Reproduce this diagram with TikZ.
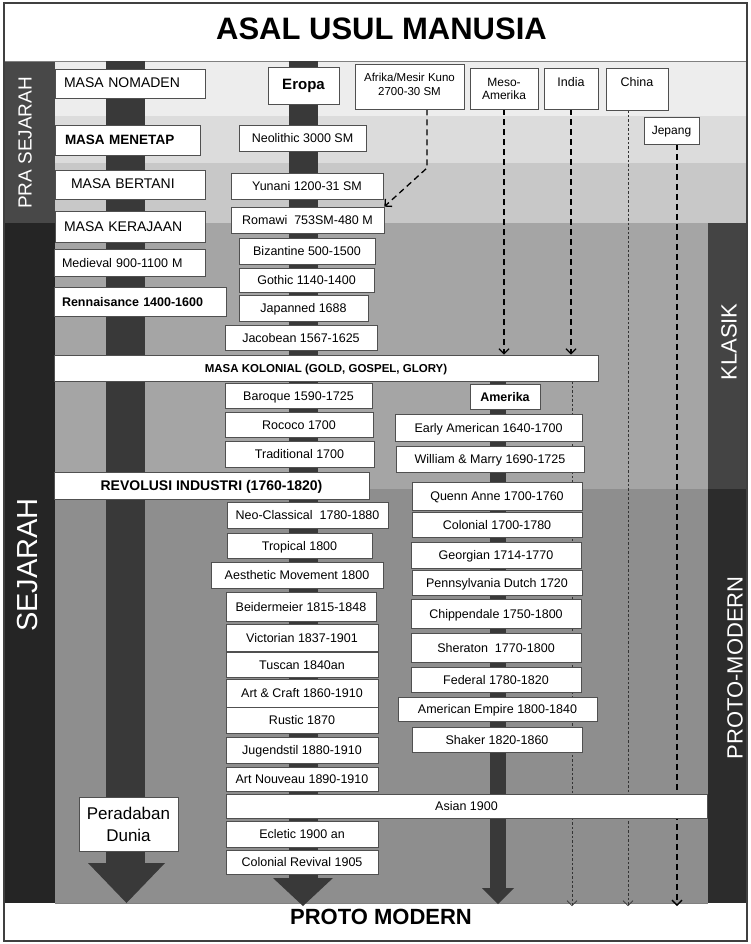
\documentclass[tikz,border=0pt]{standalone}
\usepackage{fontspec}
\setmainfont{Liberation Sans}
\usetikzlibrary{arrows.meta}

\definecolor{bandA}{HTML}{EDEDED}
\definecolor{bandB}{HTML}{DCDCDC}
\definecolor{bandC}{HTML}{C8C8C8}
\definecolor{bandD}{HTML}{A5A5A5}
\definecolor{bandE}{HTML}{8E8E8E}
\definecolor{barpra}{HTML}{484848}
\definecolor{barsej}{HTML}{252525}
\definecolor{barkla}{HTML}{444444}
\definecolor{barpro}{HTML}{2C2C2C}
\definecolor{shaft}{HTML}{393939}
\definecolor{boxline}{HTML}{505050}

\pgfdeclarelayer{backdrop}
\pgfdeclarelayer{links}
\pgfsetlayers{backdrop,links,main}

% box given by its corners: [options]{name}{x1}{y1}{x2}{y2}{text}
\newcommand{\eraBox}[7][]{%
  \node[bx,minimum width={#5-#3},minimum height={#6-#4},#1] (#2)
    at ({(#3+#5)/2},{(#4+#6)/2}) {#7};}
% left-aligned box: [options]{name}{x1}{y1}{x2}{y2}{indent}{text width}{text}
\newcommand{\eraLeft}[9][]{%
  \node[bx,align=left,minimum width={#5-#3},minimum height={#6-#4},
    inner xsep=#7pt,text width=#8pt,#1] (#2)
    at ({(#3+#5)/2},{(#4+#6)/2}) {#9};}

\begin{document}
\begin{tikzpicture}[x=1pt,y=-1pt,
  bx/.style={draw=boxline,fill=white,line width=0.7pt,inner sep=0pt,
    text height=9pt,text depth=0pt,font=\fontsize{12.5}{15}\selectfont},
  mbx/.style={draw=boxline,fill=white,line width=0.7pt,inner sep=0pt},
  boldtxt/.style={font=\fontsize{12.5}{15}\selectfont\bfseries},
  bigtxt/.style={font=\fontsize{14}{16}\selectfont},
  plain/.style={inner sep=0pt,font=\fontsize{12.5}{15}\selectfont},
  sidelabel/.style={rotate=90,text=white,inner sep=0pt},
  dashthick/.style={draw=black,line width=1.3pt,dash pattern=on 6pt off 4pt,
    -{Straight Barb[length=5pt,width=10pt]}},
  dotthin/.style={draw=black!80,line width=0.6pt,dash pattern=on 2.5pt off 2pt,
    -{Straight Barb[length=5pt,width=10pt]}}]

\useasboundingbox (0,0) rectangle (750,944);

\begin{pgfonlayer}{backdrop}
  \fill[white] (0,0) rectangle (750,944);
  % era bands
  \fill[bandA] (4,61) rectangle (747,116);
  \fill[bandB] (4,116) rectangle (747,163);
  \fill[bandC] (4,163) rectangle (747,223);
  \fill[bandD] (4,223) rectangle (747,489);
  \fill[bandE] (4,489) rectangle (747,903);
  % side bars
  \fill[barpra] (4,61) rectangle (55,223);
  \fill[barsej] (4,223) rectangle (55,903);
  \fill[barkla] (708,223) rectangle (747,489);
  \fill[barpro] (708,489) rectangle (747,903);
  % title and footer strips
  \fill[white] (4,3) rectangle (747,61);
  \draw[gray,line width=0.8pt] (4,61) -- (747,61);
  \fill[white] (4,903) rectangle (747,941);
  \draw[gray,line width=0.8pt] (55,903) -- (708,903);
  % main arrows
  \fill[shaft] (106,61) rectangle (145,864);
  \fill[shaft] (88,863) -- (165,863) -- (126.5,903) -- cycle;
  \fill[shaft] (289,61) rectangle (318,879);
  \fill[shaft] (273,878) -- (333,878) -- (303,906) -- cycle;
  \fill[shaft] (490,381) rectangle (506,889);
  \fill[shaft] (482,888) -- (514,888) -- (498,904) -- cycle;
\end{pgfonlayer}

% side labels
\node[sidelabel,font=\fontsize{19}{19}\selectfont] (lblpra) at (25,143) {PRA SEJARAH};
\node[sidelabel,font=\fontsize{29}{29}\selectfont] (lblsej) at (28,565) {SEJARAH};
\node[sidelabel,font=\fontsize{22}{22}\selectfont] (lblkla) at (729,342) {KLASIK};
\node[sidelabel,font=\fontsize{22}{22}\selectfont] (lblpro) at (735,668) {PROTO-MODERN};

% headings
\node[inner sep=0pt,font=\fontsize{31}{31}\selectfont\bfseries] (title) at (381.5,29) {ASAL USUL MANUSIA};
\node[inner sep=0pt,font=\fontsize{22}{22}\selectfont\bfseries] (footer) at (381,917) {PROTO MODERN};

% ages of mankind
\eraLeft[font=\fontsize{14}{16}\selectfont]{nomaden}{55}{69}{205}{98}{9}{132}{MASA NOMADEN}
\eraLeft[font=\fontsize{13.5}{16}\selectfont\bfseries]{menetap}{55}{125}{200}{155}{10}{125}{MASA MENETAP}
\eraLeft[font=\fontsize{14}{16}\selectfont]{bertani}{55}{170}{205}{199}{16}{118}{MASA BERTANI}
\eraLeft[font=\fontsize{14}{16}\selectfont]{kerajaan}{55}{211}{205}{242}{9}{132}{MASA KERAJAAN}
\eraLeft{medieval}{54}{249}{205}{276}{8}{135}{Medieval 900-1100 M}
\eraLeft[boldtxt]{renaissance}{54}{287}{226}{316}{8}{156}{Rennaisance 1400-1600}

% Europe
\eraBox[font=\fontsize{15}{18}\selectfont\bfseries]{eropa}{268}{67}{339}{104}{Eropa}
\eraBox{neolithic}{239}{125}{366}{151}{Neolithic 3000 SM}
\eraBox{yunani}{231}{173}{383}{199}{Yunani 1200-31 SM}
\eraBox{romawi}{231}{207}{384}{233}{Romawi~ 753SM-480 M}
\eraBox{bizantine}{239}{238}{375}{264}{Bizantine 500-1500}
\eraBox{gothic}{239}{268}{374}{292}{Gothic 1140-1400}
\eraBox{japanned}{239}{295}{368}{321}{Japanned 1688}
\eraBox{jacobean}{225}{325}{377}{350}{Jacobean 1567-1625}
\eraBox[font=\fontsize{11.5}{14}\selectfont\bfseries]{kolonial}{54}{355}{598}{381}{MASA KOLONIAL (GOLD, GOSPEL, GLORY)}
\eraBox{baroque}{225}{383}{372}{408}{Baroque 1590-1725}
\eraBox{rococo}{225}{412}{373}{437}{Rococo 1700}
\eraBox{traditional}{225}{441}{374}{467}{Traditional 1700}
\eraBox[font=\fontsize{14}{16}\selectfont\bfseries]{revolusi}{54}{472}{369}{499}{REVOLUSI INDUSTRI (1760-1820)}
\eraBox{neoclassical}{227}{502}{388}{528}{Neo-Classical~ 1780-1880}
\eraBox{tropical}{227}{533}{372}{558}{Tropical 1800}
\eraBox{aesthetic}{211}{562}{383}{588}{Aesthetic Movement 1800}
\eraBox{beidermeier}{226}{592}{376}{621}{Beidermeier 1815-1848}
\eraBox{victorian}{226}{624}{378}{651}{Victorian 1837-1901}
\eraBox{tuscan}{226}{652}{378}{677}{Tuscan 1840an}
\eraBox{artcraft}{226}{679}{378}{707}{Art \& Craft 1860-1910}
\eraBox{rustic}{226}{707}{378}{733}{Rustic 1870}
\eraBox{jugendstil}{226}{737}{378}{763}{Jugendstil 1880-1910}
\eraBox{artnouveau}{226}{767}{378}{791}{Art Nouveau 1890-1910}
\eraBox{asian}{226}{794}{707}{818}{Asian 1900}
\eraBox{ecletic}{226}{821}{378}{847}{Ecletic 1900 an}
\eraBox{colrevival}{226}{850}{378}{874}{Colonial Revival 1905}

\node[mbx,align=center,font=\fontsize{17}{22}\selectfont,minimum width=99,minimum height=54]
  (peradaban) at (128.5,824) {Peradaban\\Dunia};

% America
\eraBox[boldtxt]{amerika}{470}{384}{540}{409}{Amerika}
\eraBox{earlyam}{395}{414}{582}{441}{Early American 1640-1700}
\eraBox{william}{396}{446}{584}{472}{William \& Marry 1690-1725}
\eraBox{quenn}{412}{482}{582}{510}{Quenn Anne 1700-1760}
\eraBox{colonial}{412}{512}{582}{537}{Colonial 1700-1780}
\eraBox{georgian}{411}{542}{581}{568}{Georgian 1714-1770}
\eraBox{penn}{412}{570}{582}{595}{Pennsylvania Dutch 1720}
\eraBox{chippendale}{411}{599}{581}{628}{Chippendale 1750-1800}
\eraBox{sheraton}{411}{633}{581}{662}{Sheraton~ 1770-1800}
\eraBox{federal}{411}{667}{581}{692}{Federal 1780-1820}
\eraBox{amempire}{398}{697}{597}{721}{American Empire 1800-1840}
\eraBox{shaker}{412}{727}{582}{752}{Shaker 1820-1860}

% other civilisations
\node[mbx,minimum width=109,minimum height=45] (afrika) at (409.5,86.5) {};
\node[plain,align=center,font=\fontsize{11.5}{14}\selectfont] (afrikatxt) at (409.5,84) {Afrika/Mesir Kuno\\2700-30 SM};
\node[mbx,minimum width=68,minimum height=41] (meso) at (504,88.5) {};
\node[plain,align=center,font=\fontsize{12}{13}\selectfont] (mesotxt) at (504,88.5) {Meso-\\Amerika};
\node[mbx,minimum width=54,minimum height=41] (india) at (571,88.5) {};
\node[plain,text height=9pt,text depth=0pt] (indiatxt) at (571,82) {India};
\node[mbx,minimum width=62,minimum height=42] (china) at (637,89) {};
\node[plain,text height=9pt,text depth=0pt] (chinatxt) at (637,82) {China};
\eraBox[font=\fontsize{12}{14}\selectfont]{jepang}{644}{117}{699}{144}{Jepang}

% influence lines
\coordinate (afrbend) at (427,168);
\coordinate (indiaend) at (572,906);
\coordinate (chinaend) at (628,906);
\coordinate (jepangend) at (677,906);
\begin{pgfonlayer}{links}
  \draw[dashthick] (afrika.south -| afrbend) -- (afrbend) -- (romawi.north east);
  \draw[dashthick] (meso.south) -- (meso.south |- kolonial.north);
  \draw[dashthick] (india.south) -- (india.south |- kolonial.north);
  \draw[dotthin] (indiaend |- kolonial.south) -- (indiaend);
  \draw[dotthin] (china.south -| chinaend) -- (chinaend);
  \draw[dashthick] (jepang.south -| jepangend) -- (jepangend);
\end{pgfonlayer}

% outer frame
\draw[black!75,line width=1.2pt] (4,3) rectangle (747,941);
\end{tikzpicture}
\end{document}
